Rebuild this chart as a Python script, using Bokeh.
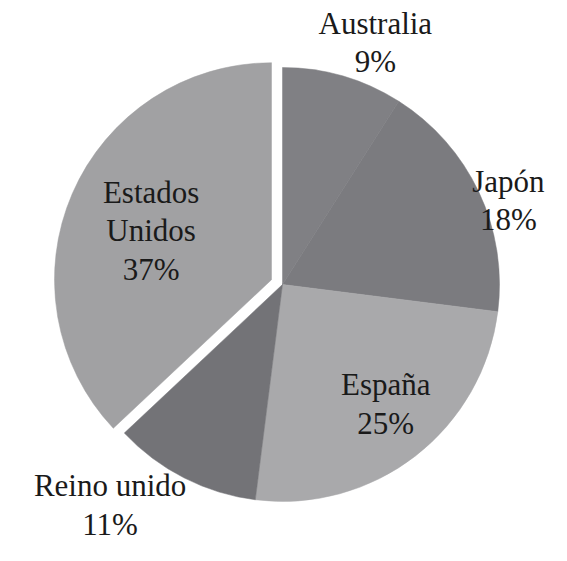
import math

from bokeh.core.properties import value
from bokeh.embed import file_html
from bokeh.models import ColumnDataSource, Range1d
from bokeh.plotting import figure
from bokeh.resources import INLINE

# Data --------------------------------------------------------------
countries = ['Australia', 'Japón', 'España', 'Reino unido', 'Estados Unidos']
shares = [9, 18, 25, 11, 37]
label_texts = ['Australia\n9%', 'Japón\n18%', 'España\n25%', 'Reino unido\n11%', 'Estados\nUnidos\n37%']

# Style / layout ----------------------------------------------------
colours = ['#808084', '#7b7b7f', '#a9a9ab', '#737377', '#a1a1a3']
explode = [0, 0, 0, 0, 12]           # px pushed out along the slice's middle
label_radius = [259, 241, 158, 280, 130]
label_turn = [4.8, 4.8, -3, 11, -1.2]  # degrees, clockwise nudge of each label

W, H = 551, 545
CX, CY, R = 282, H - 284, 217

starts, ends, xs, ys, lx, ly = [], [], [], [], [], []
total = float(sum(shares))
acc = 0.0
for i, s in enumerate(shares):
    a0 = acc / total
    acc += s
    a1 = acc / total
    mid = (a0 + a1) / 2 * 2 * math.pi  # clockwise from 12 o'clock
    ox = CX + explode[i] * math.sin(mid)
    oy = CY + explode[i] * math.cos(mid)
    starts.append(math.pi / 2 - a0 * 2 * math.pi)
    ends.append(math.pi / 2 - a1 * 2 * math.pi)
    xs.append(ox)
    ys.append(oy)
    t = mid + math.radians(label_turn[i])
    lx.append(ox + label_radius[i] * math.sin(t))
    ly.append(oy + label_radius[i] * math.cos(t))

source = ColumnDataSource(data=dict(country=countries, share=shares, color=colours,
                                    x=xs, y=ys, start=starts, end=ends))
labels = ColumnDataSource(data=dict(x=lx, y=ly, text=label_texts))

p = figure(width=W, height=H, x_range=Range1d(0, W), y_range=Range1d(0, H),
           toolbar_location=None, output_backend="svg", min_border=0)
p.axis.visible = False
p.grid.visible = False
p.outline_line_color = None

p.wedge(x='x', y='y', radius=R, radius_units='screen', start_angle='start', end_angle='end',
        direction='clock', fill_color='color', line_color='color', line_width=0.5, source=source)

p.text(x='x', y='y', text='text', source=labels, text_align='center', text_baseline='middle',
       text_font=value("Liberation Serif"), text_font_size='31px',
       text_color='#1a1a1a', text_line_height=1.1)

open("out.html", "w").write(file_html(p, INLINE))
